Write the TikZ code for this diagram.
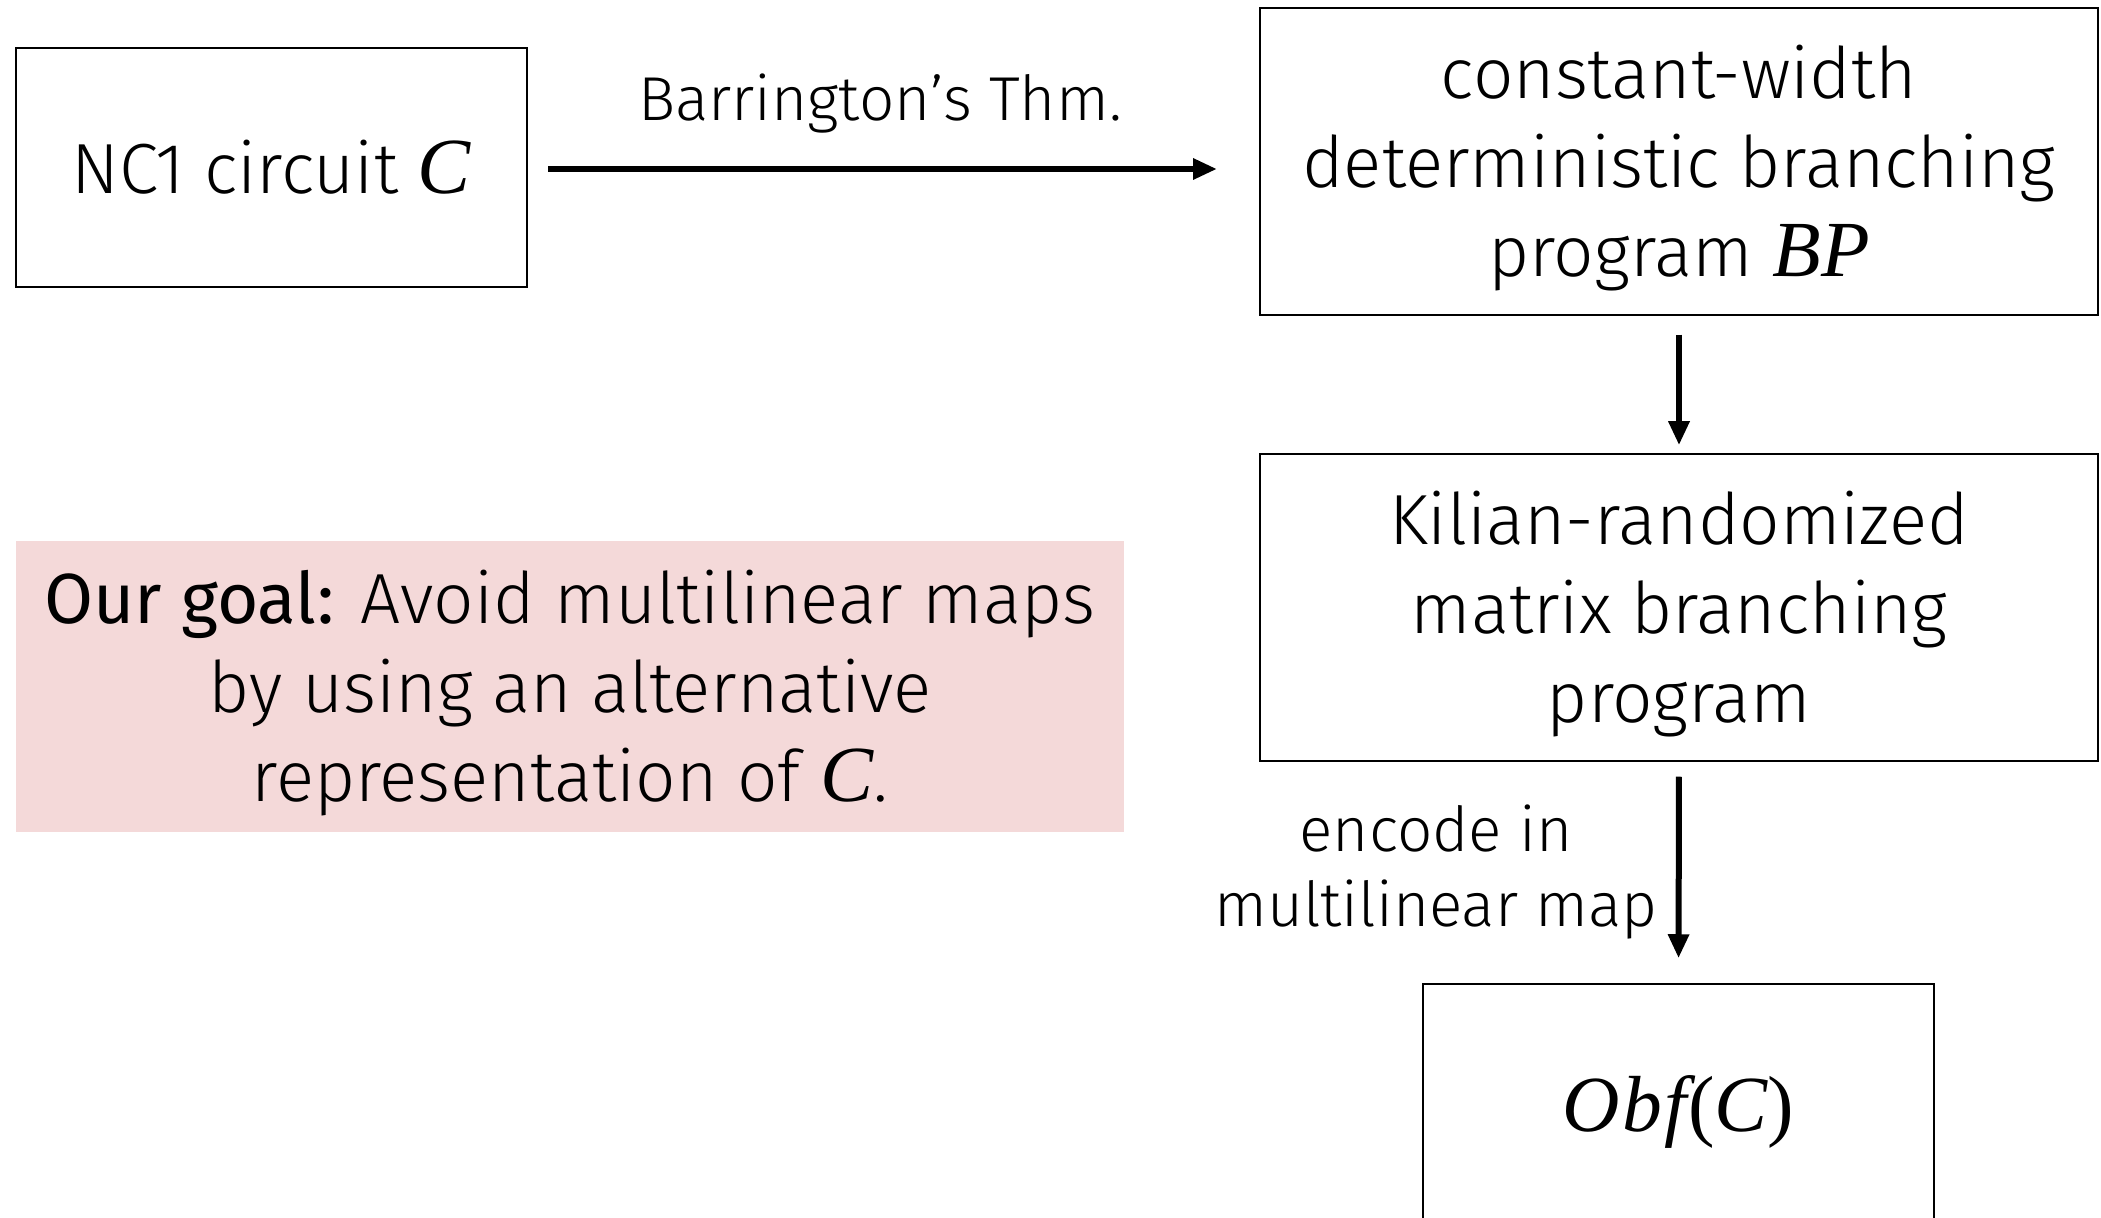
\documentclass[tikz,border=0pt]{standalone}
\usepackage{fontspec}
\setmainfont{Fira Sans Light}
\newfontfamily\regfont{Fira Sans}
\newfontfamily\mathfont[Scale=1.12]{Liberation Serif}
\usetikzlibrary{arrows.meta,calc}
\newcommand{\mv}[1]{{\mathfont\itshape #1}}
\newcommand{\mup}[1]{{\mathfont #1}}
\definecolor{goalpink}{HTML}{F4D9D9}
\tikzset{
  box/.style={draw=black, line width=0.75pt, inner sep=0pt},
  conn/.style={line width=3pt, -{Triangle[length=12pt,width=10pt]}},
  bigtext/.style={font=\fontsize{35.5}{44.5}\selectfont, align=center, inner sep=0pt},
  lbltext/.style={font=\fontsize{31}{37.5}\selectfont, align=center}
}
\begin{document}
\begin{tikzpicture}[x=0.5pt,y=-0.5pt]
\useasboundingbox (0,0) rectangle (2101,1218);
\node[box, bigtext, minimum width=255.5pt, minimum height=119.5pt] (nc) at (271.5,167.5) {NC1 circuit \mv{C}};
\node[box, minimum width=419pt, minimum height=153.5pt] (bp) at (1679,161.5) {};
\node[bigtext] (bptext) at ($(bp.center)+(0,7)$) {constant-width\\deterministic branching\\program \mv{BP}};
\node[box, minimum width=419pt, minimum height=153.5pt] (kil) at (1679,607.5) {};
\node[bigtext] (kiltext) at ($(kil.center)+(0,7)$) {Kilian-randomized\\matrix branching\\program};
\node[box, bigtext, minimum width=255.5pt, minimum height=128pt] (obf) at (1678.5,1112) {\mv{O\kern1pt b\kern1pt f}\kern1pt\mup{(}\mv{C}\mup{)}};
\node[fill=goalpink, inner sep=0pt, minimum width=554pt, minimum height=145.5pt] (goal) at (570,686.5) {};
\node[bigtext] (goaltext) at ($(goal.center)+(0,7)$) {{\regfont Our goal:} Avoid multilinear maps\\by using an alternative\\representation of \mv{C}.};
\coordinate (a1s) at (548,169);
\coordinate (a1e) at (1217,169);
\draw[conn] (a1s) -- (a1e);
\node[lbltext] (bar) at (880,104) {Barrington’s Thm.};
\draw[conn, shorten <=9.5pt, shorten >=4pt] (bp.south) -- (kil.north);
\draw[conn, shorten <=7.5pt, shorten >=12.5pt] (kil.south) -- (obf.north);
\node[lbltext] (enc) at (1436,872) {encode in\\multilinear map};
\end{tikzpicture}
\end{document}
